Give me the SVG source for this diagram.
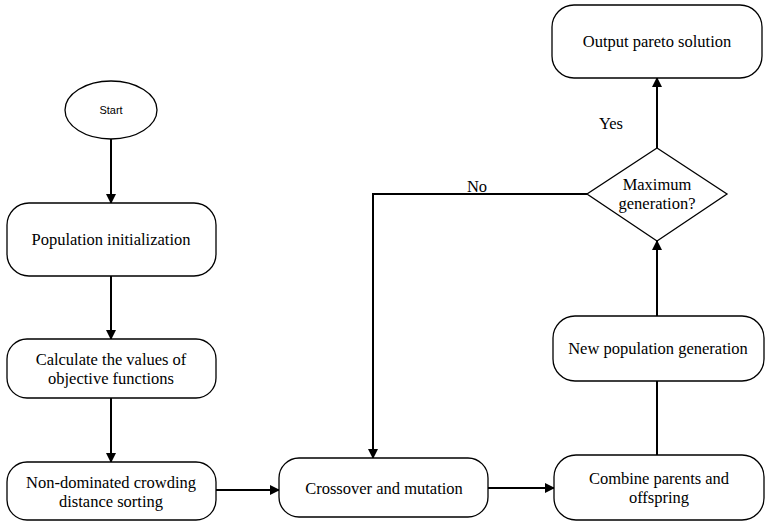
<svg xmlns="http://www.w3.org/2000/svg" width="771" height="530" viewBox="0 0 771 530">
<defs>
<marker id="ah" markerWidth="10" markerHeight="10" refX="9" refY="5" orient="auto" markerUnits="userSpaceOnUse">
<path d="M0,0 L10,5 L0,10 Z" fill="#000"/>
</marker>
<style>
.box{fill:#fff;stroke:#000;stroke-width:1.3}
.t{font-family:"Liberation Serif",serif;font-size:16.5px;fill:#000;text-anchor:middle}
.s{font-family:"Liberation Sans",sans-serif;font-size:11px;fill:#000;text-anchor:middle}
.c{fill:none;stroke:#000;stroke-width:2;marker-end:url(#ah)}
.l{fill:none;stroke:#000;stroke-width:2}
</style>
</defs>
<rect width="771" height="530" fill="#fff"/>
<g id="connectors">
<path class="c" d="M111,139 V203"/>
<path class="c" d="M111,276 V339"/>
<path class="c" d="M111,398 V462"/>
<path class="c" d="M216,490 H279"/>
<path class="c" d="M488,488 H554"/>
<path class="l" d="M657,455 V381"/>
<path class="c" d="M657,316 V241"/>
<path class="c" d="M657,148 V78"/>
<path class="c" d="M587,194 H373 V458"/>
<text class="t" x="477" y="192">No</text>
<text class="t" x="611" y="129">Yes</text>
</g>
<g id="start"><ellipse class="box" cx="111" cy="110" rx="46" ry="29"/><text class="s" x="111" y="114">Start</text></g>
<g id="init"><rect class="box" x="7" y="203" width="209" height="73" rx="22"/><text class="t" x="111" y="245">Population initialization</text></g>
<g id="calc"><rect class="box" x="7" y="339" width="209" height="59" rx="20"/><text class="t" x="111" y="365">Calculate the values of</text><text class="t" x="111" y="384">objective functions</text></g>
<g id="sort"><rect class="box" x="7" y="462" width="209" height="58" rx="20"/><text class="t" x="111" y="488">Non-dominated crowding</text><text class="t" x="111" y="507">distance sorting</text></g>
<g id="cross"><rect class="box" x="279" y="458" width="209" height="59" rx="20"/><text class="t" x="384" y="494">Crossover and mutation</text></g>
<g id="combine"><rect class="box" x="554" y="455" width="210" height="65" rx="22"/><text class="t" x="659" y="484">Combine parents and</text><text class="t" x="659" y="503">offspring</text></g>
<g id="newpop"><rect class="box" x="553" y="316" width="211" height="65" rx="22"/><text class="t" x="658" y="354">New population generation</text></g>
<g id="decision"><polygon class="box" points="657,148 727,194 657,241 587,194"/><text class="t" x="657" y="190">Maximum</text><text class="t" x="657" y="209">generation?</text></g>
<g id="output"><rect class="box" x="552" y="5" width="210" height="73" rx="22"/><text class="t" x="657" y="47">Output pareto solution</text></g>
</svg>
